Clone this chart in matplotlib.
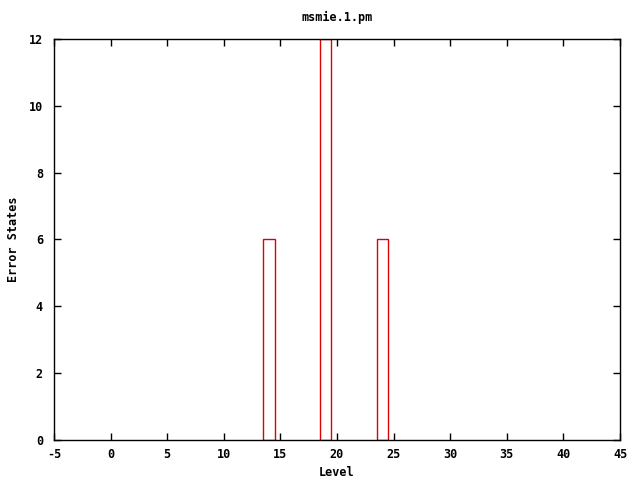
import matplotlib
matplotlib.use("Agg")
import matplotlib.pyplot as plt

levels = [14, 19, 24]
error_states = [6, 12, 6]
xticks = [-5, 0, 5, 10, 15, 20, 25, 30, 35, 40, 45]
yticks = [0, 2, 4, 6, 8, 10, 12]

plt.rcParams['font.family'] = ['DejaVu Sans Mono']
plt.rcParams['font.weight'] = 'bold'
plt.rcParams['font.size'] = 8
plt.rcParams['axes.unicode_minus'] = False

fig = plt.figure(figsize=(6.4, 4.8), dpi=100)
ax = fig.add_axes([54/640, 1-440/480, (620-54)/640, (440-39)/480])
ax.bar(levels, error_states, width=1.0, fill=False, edgecolor='#dd0000', linewidth=1)
ax.set_xlim(-5, 45)
ax.set_ylim(0, 12)
ax.set_xticks(xticks)
ax.set_yticks(yticks)
ax.tick_params(direction='in', top=True, right=True, length=5, width=1, labelsize=8.5)
for lbl in ax.get_xticklabels() + ax.get_yticklabels():
    lbl.set_fontweight('bold')
ax.tick_params(axis='x', pad=6)
ax.tick_params(axis='y', pad=8)
for s in ax.spines.values():
    s.set_linewidth(1)
ax.set_title('msmie.1.pm', fontsize=8.5, fontweight='bold', pad=13)
ax.set_xlabel('Level', fontsize=8.5, fontweight='bold', labelpad=3)
ax.set_ylabel('Error States', fontsize=8.5, fontweight='bold', labelpad=6)
fig.savefig('out.png', dpi=100)
